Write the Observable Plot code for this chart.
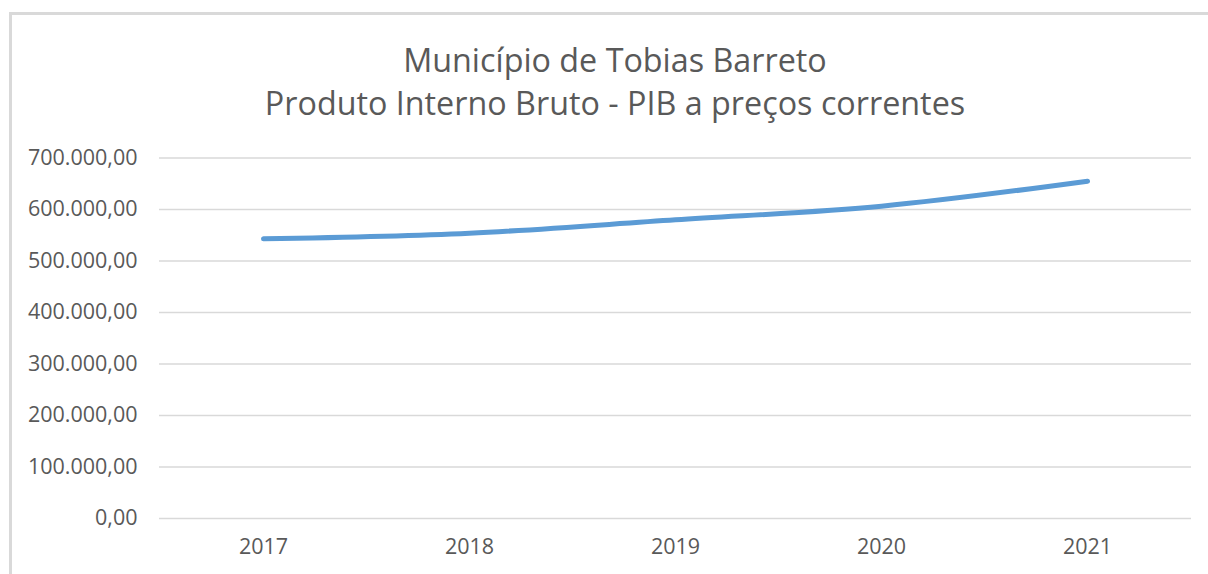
<!DOCTYPE html>
<html>
<head>
<meta charset="utf-8">
<script src="https://cdn.jsdelivr.net/npm/d3@7"></script>
<script src="https://cdn.jsdelivr.net/npm/@observablehq/plot@0.6"></script>
<style>
  html, body { margin: 0; padding: 0; background: #fff; }
  body { width: 1208px; height: 574px; position: relative; overflow: hidden; font-family: "Open Sans", sans-serif; }
  #frame { position: absolute; left: 9px; top: 12px; width: 1220px; height: 600px; border-left: 3px solid #d9d9d9; border-top: 3px solid #d9d9d9; box-sizing: border-box; }
  #title { position: absolute; left: 615px; top: 38px; transform: translateX(-50%); white-space: nowrap; text-align: center; color: #595959; font-size: 32.3px; line-height: 43px; }
  #chart { position: absolute; left: 0; top: 0; }
</style>
</head>
<body>
<div id="frame"></div>
<div id="title">Município de Tobias Barreto<br>Produto Interno Bruto - PIB a preços correntes</div>
<div id="chart"></div>
<script>
const years = ["2017", "2018", "2019", "2020", "2021"];
const pib = [543000, 554000, 580000, 606500, 655000];
const yTicks = [0, 100000, 200000, 300000, 400000, 500000, 600000, 700000];

const data = years.map((y, i) => ({year: y, value: pib[i]}));
const ptBR = d3.formatLocale({decimal: ",", thousands: ".", grouping: [3], currency: ["", ""]});
const fmt = ptBR.format(",.2f");

const chart = Plot.plot({
  width: 1208,
  height: 574,
  marginLeft: 159,
  marginRight: 17,
  marginTop: 157.5,
  marginBottom: 56,
  style: {fontFamily: "Open Sans", fontSize: "21.5px", color: "#595959", background: "transparent", overflow: "visible"},
  x: {type: "point", domain: years, padding: 0.5, label: null},
  y: {domain: [0, 700000], label: null},
  marks: [
    Plot.gridY(yTicks, {stroke: "#d9d9d9", strokeOpacity: 1, strokeWidth: 1.5}),
    Plot.axisY(yTicks, {tickSize: 0, tickPadding: 22, tickFormat: fmt, fill: "#595959", fontSize: 21.5, label: null}),
    Plot.axisX(years, {tickSize: 0, tickPadding: 20, fill: "#595959", fontSize: 21.5, label: null}),
    Plot.line(data, {x: "year", y: "value", stroke: "#5b9bd5", strokeWidth: 5, curve: "catmull-rom", strokeLinecap: "round"})
  ]
});
document.getElementById("chart").appendChild(chart);
</script>
</body>
</html>
